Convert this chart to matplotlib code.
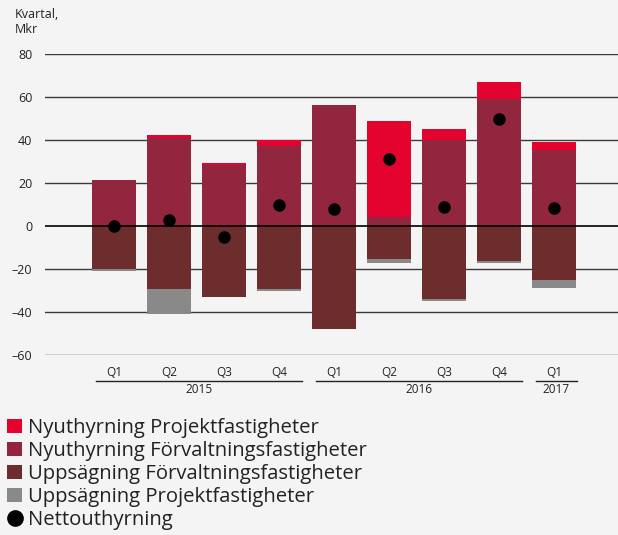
import matplotlib
matplotlib.use("Agg")
import matplotlib.pyplot as plt
from matplotlib.lines import Line2D
from matplotlib.patches import Patch
import matplotlib.transforms as mtransforms
import numpy as np

plt.rcParams['font.family'] = ['Open Sans', 'DejaVu Sans']

quarters = ["Q1", "Q2", "Q3", "Q4", "Q1", "Q2", "Q3", "Q4", "Q1"]
years = ["2015", "2016", "2017"]
year_groups = [(0, 3), (4, 7), (8, 8)]
nyuth_projekt = [0.0, 1.2, 1.1, 2.7, 0.0, 44.8, 5.1, 7.9, 3.6]
nyuth_forv = [21.4, 41.2, 28.3, 37.4, 56.4, 4.2, 40.1, 59.2, 35.6]
upps_forv = [-20.0, -29.4, -33.0, -29.4, -47.9, -15.4, -34.0, -16.3, -25.2]
upps_projekt = [-0.8, -11.5, 0.0, -0.8, 0.0, -1.7, -0.8, -0.8, -3.6]
netto = [0.0, 2.8, -5.1, 9.8, 7.8, 31.4, 9.0, 49.7, 8.5]
yticks = [-60, -40, -20, 0, 20, 40, 60, 80]

labels = ["Nyuthyrning Projektfastigheter", "Nyuthyrning Förvaltningsfastigheter",
          "Uppsägning Förvaltningsfastigheter", "Uppsägning Projektfastigheter",
          "Nettouthyrning"]
colors = ["#e4032e", "#93263f", "#6d2d2d", "#898989"]
bg = "#f4f4f4"
txt = "#222222"

W, H = 618, 535
fig = plt.figure(figsize=(W / 100, H / 100), dpi=100, facecolor=bg)
ax = fig.add_axes([45 / W, 1 - 354.7 / H, (618 - 45) / W, (354.7 - 54.4) / H])
ax.set_facecolor(bg)

x = np.arange(len(quarters))
bw = 0.8
nf = np.array(nyuth_forv)
np_ = np.array(nyuth_projekt)
uf = np.array(upps_forv)
up = np.array(upps_projekt)

for y in yticks:
    if y == 0:
        continue
    ax.axhline(y, color="#3a3a3a", lw=1.0, zorder=1)

ax.bar(x, nf, bw, color=colors[1], zorder=2)
ax.bar(x, np_, bw, bottom=nf, color=colors[0], zorder=2)
ax.bar(x, uf, bw, color=colors[2], zorder=2)
ax.bar(x, up, bw, bottom=uf, color=colors[3], zorder=2)
ax.axhline(0, color="black", lw=1.2, zorder=3)
ax.plot(x, netto, 'o', color="black", markersize=8, zorder=4)

ax.set_xlim(-1.2545, 9.164)
ax.set_ylim(-60, 80)
ax.set_yticks(yticks)
ax.set_yticklabels([("\u2013" + str(-t)) if t < 0 else str(t) for t in yticks],
                   fontsize=9, color=txt)
ax.tick_params(axis='y', length=0, pad=9)
ax.set_xticks([])
for s in ax.spines.values():
    s.set_visible(False)

trans = mtransforms.blended_transform_factory(ax.transData, ax.transAxes)
axh_px = 354.7 - 54.4
def ay(px_below):
    return -px_below / axh_px

for i, q in enumerate(quarters):
    ax.text(i, ay(18), q, transform=trans, ha="center", va="center",
            fontsize=8.5, color=txt)
for (a, b), yr in zip(year_groups, years):
    ax.plot([a - 0.33, b + 0.42], [ay(26), ay(26)], transform=trans,
            color=txt, lw=1.0, clip_on=False)
    ax.text((a - 0.33 + b + 0.42) / 2, ay(35), yr, transform=trans,
            ha="center", va="center", fontsize=8.5, color=txt)

fig.text(15 / W, 1 - 8 / H, "Kvartal,\nMkr", ha="left", va="top",
         fontsize=9, color=txt, linespacing=1.2)

handles = [Patch(facecolor=c, edgecolor='none') for c in colors]
handles.append(Line2D([], [], marker='o', color='black', linestyle='none', markersize=11))
leg = fig.legend(handles, labels, loc="upper left",
                 bbox_to_anchor=(7 / W, 1 - 418 / H), frameon=False,
                 fontsize=14.6, handlelength=0.75, handleheight=0.75,
                 handletextpad=0.3, labelspacing=0.15, borderaxespad=0,
                 borderpad=0)
for t in leg.get_texts():
    t.set_color(txt)

fig.savefig("out.png", dpi=100, facecolor=bg)
